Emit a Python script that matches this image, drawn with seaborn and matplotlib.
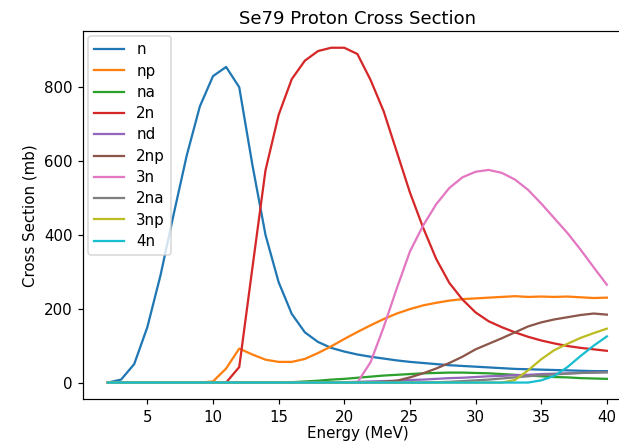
import matplotlib
matplotlib.use("Agg")
import matplotlib.pyplot as plt
import seaborn as sns
import pandas as pd

energies = list(range(2, 41))

reactions = ["n", "np", "na", "2n", "nd", "2np", "3n", "2na", "3np", "4n"]

xs_n = [0, 8, 50, 150, 290, 455, 615, 748, 830, 855, 800, 590, 400, 272, 186, 136, 110, 94, 84,
        76, 70, 65, 60, 56, 53, 50, 47, 45, 43, 41, 39, 37, 36, 35, 34, 33, 32, 31, 31]
xs_np = [0, 0, 0, 0, 0, 0, 0, 0, 3, 38, 92, 76, 62, 56, 56, 64, 80, 98, 118,
         137, 155, 172, 187, 199, 209, 216, 222, 226, 228, 230, 232, 234, 232, 233, 232, 233, 231, 229, 230]
xs_na = [0] * 14 + [1, 3, 5, 8, 10, 13, 16, 19, 21, 23, 25, 26, 27, 27, 26, 25, 23, 21, 19, 17, 15, 14, 12, 11, 10]
xs_2n = [0] * 10 + [42, 310, 575, 725, 822, 872, 898, 907, 907, 890, 820, 735, 625, 515, 420, 335, 270,
                    225, 190, 166, 150, 136, 124, 114, 106, 99, 94, 90, 86]
xs_nd = [0] * 18 + [1, 2, 3, 4, 5, 7, 8, 10, 12, 13, 15, 17, 18, 20, 21, 23, 24, 25, 26, 27, 28]
xs_2np = [0] * 21 + [2, 5, 14, 25, 38, 53, 70, 90, 105, 120, 136, 152, 163, 171, 177, 183, 187, 184]
xs_3n = [0] * 20 + [55, 150, 255, 355, 425, 483, 527, 556, 571, 576, 568, 550, 522, 485, 445, 405, 360, 312, 265]
xs_2na = [0] * 25 + [1, 2, 4, 6, 8, 11, 14, 17, 20, 22, 24, 26, 27, 28]
xs_3np = [0] * 31 + [7, 33, 63, 88, 105, 121, 134, 146]
xs_4n = [0] * 33 + [6, 18, 42, 72, 100, 125]

series = [xs_n, xs_np, xs_na, xs_2n, xs_nd, xs_2np, xs_3n, xs_2na, xs_3np, xs_4n]

rows = []
for name, vals in zip(reactions, series):
    for e, v in zip(energies, vals):
        rows.append({"Energy": e, "xs": v, "reaction": name})
df = pd.DataFrame(rows)

plt.rcParams["font.family"] = ["DejaVu Sans"]
fig = plt.figure(figsize=(619 / 108, 443 / 108), dpi=108)
ax = fig.add_axes([83 / 619, 1 - 399.3 / 443, 548.8 / 619, 368.3 / 443])

palette = sns.color_palette("tab10", 10)
sns.lineplot(data=df, x="Energy", y="xs", hue="reaction", hue_order=reactions,
             palette=palette, ax=ax, linewidth=1.5, legend=True)

ax.set_xlim(0.1, 41.9)
ax.set_ylim(-45.35, 952.35)
ax.set_title("Se79 Proton Cross Section", pad=5)
ax.set_xlabel("Energy (MeV)", labelpad=1)
ax.set_ylabel("Cross Section (mb)")
ax.set_xticks([5, 10, 15, 20, 25, 30, 35, 40])
ax.set_yticks([0, 200, 400, 600, 800])
handles, labels = ax.get_legend_handles_labels()
ax.legend(handles, labels, loc="upper left", fontsize=10, labelspacing=0.42, borderaxespad=0.35)

fig.savefig("out.png", dpi=108)
